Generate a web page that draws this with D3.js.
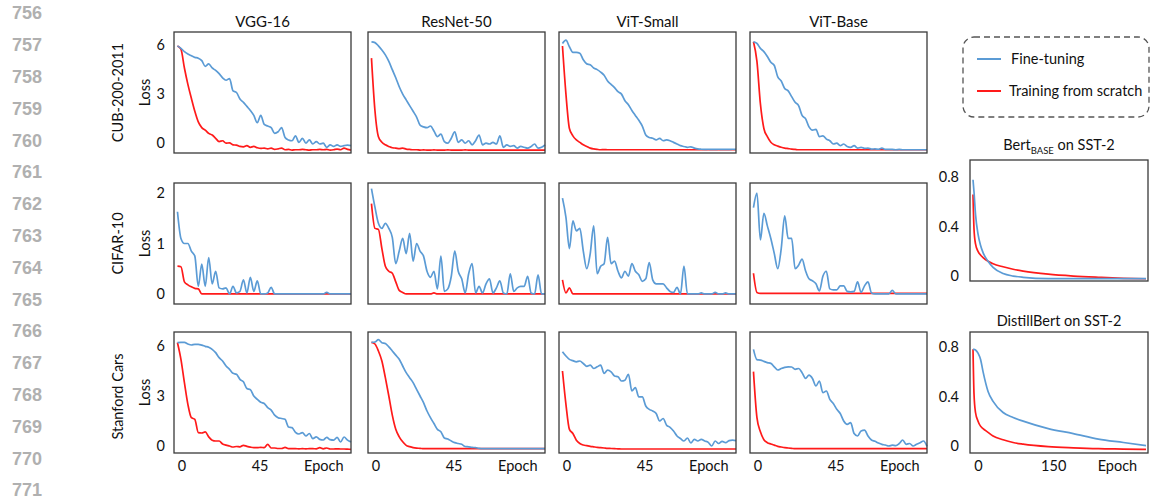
<!DOCTYPE html>
<html>
<head>
<meta charset="utf-8">
<script src="https://cdn.jsdelivr.net/npm/d3@7"></script>
<style>
  body { margin: 0; background: #fff; }
  svg text { font-family: Lato, "Noto Sans", sans-serif; fill: #111; }
</style>
</head>
<body>
<script>
// column / row names
const models = ["VGG-16", "ResNet-50", "ViT-Small", "ViT-Base"];
const datasets = ["CUB-200-2011", "CIFAR-10", "Stanford Cars"];
const rowTicks = [[0, 3, 6], [0, 1, 2], [0, 3, 6]];
const epochTicks = [0, 45];
const nlpTicks = [0, 0.4, 0.8];
const nlpEpochTicks = [0, 150];
const legendLabels = ["Fine-tuning", "Training from scratch"];
const lineNumbers = d3.range(756, 772);

// loss every 2 epochs (0..100)
const cubVggFt = [5.95, 5.8, 5.6, 5.45, 5.35, 5.25, 5.2, 5.05, 4.7, 4.85, 4.6, 4.45, 4.25, 4.0, 3.85, 3.95, 3.2, 3.1, 2.7, 2.5, 2.25, 2.0, 1.7, 1.25, 1.7, 1.15, 1.05, 0.95, 0.6, 0.7, 0.95, 0.35, 0.2, 0.15, 0.45, 0.05, 0.3, 0.0, 0.2, -0.05, 0.1, -0.05, 0.0, -0.25, -0.1, -0.2, -0.1, -0.2, -0.15, -0.12, -0.15];
const cubVggScratch = [5.95, 5.75, 4.6, 3.6, 2.75, 1.95, 1.3, 0.95, 0.8, 0.6, 0.5, 0.3, 0.1, 0.15, 0.0, 0.02, -0.1, -0.12, -0.2, -0.22, -0.15, -0.25, -0.2, -0.28, -0.32, -0.3, -0.35, -0.3, -0.38, -0.35, -0.3, -0.4, -0.38, -0.42, -0.4, -0.4, -0.38, -0.4, -0.42, -0.4, -0.4, -0.38, -0.4, -0.38, -0.42, -0.4, -0.36, -0.4, -0.3, -0.38, -0.42];
const cubResFt = [6.2, 6.15, 5.95, 5.7, 5.4, 5.0, 4.5, 4.0, 3.45, 3.0, 2.65, 2.3, 1.95, 1.6, 1.1, 1.0, 0.95, 1.05, 0.75, 0.4, 0.55, 0.1, 0.0, 0.3, 0.7, 0.05, 0.2, 0.0, 0.15, -0.1, 0.15, 0.5, -0.1, 0.0, -0.05, 0.05, -0.05, 0.45, -0.25, -0.1, -0.2, -0.15, -0.3, -0.2, -0.25, -0.3, -0.2, -0.05, -0.3, -0.25, -0.1];
const cubResScratch = [5.2, 2.0, 0.4, 0.06, -0.1, -0.2, -0.28, -0.3, -0.33, -0.3, -0.36, -0.38, -0.4, -0.4, -0.42, -0.41, -0.42, -0.42, -0.41, -0.42, -0.42, -0.42, -0.41, -0.42, -0.42, -0.42, -0.42, -0.41, -0.42, -0.42, -0.42, -0.42, -0.42, -0.42, -0.42, -0.42, -0.42, -0.42, -0.42, -0.42, -0.42, -0.42, -0.42, -0.42, -0.42, -0.42, -0.42, -0.42, -0.42, -0.42, -0.42];
const cubVitSFt = [6.1, 6.3, 5.9, 5.55, 5.55, 5.5, 5.1, 4.85, 4.8, 4.6, 4.5, 4.35, 4.15, 3.8, 3.6, 3.4, 3.15, 3.0, 2.6, 2.35, 2.0, 1.7, 1.4, 1.05, 0.5, 0.35, 0.3, 0.2, 0.3, 0.15, 0.2, 0.15, 0.05, -0.05, -0.15, -0.2, -0.25, -0.22, -0.3, -0.35, -0.37, -0.38, -0.37, -0.38, -0.38, -0.37, -0.38, -0.38, -0.38, -0.37, -0.38];
const cubVitSScratch = [5.94, 3.0, 0.9, 0.45, 0.2, 0.05, -0.1, -0.2, -0.3, -0.35, -0.38, -0.4, -0.39, -0.4, -0.4, -0.4, -0.4, -0.4, -0.4, -0.4, -0.4, -0.4, -0.4, -0.4, -0.4, -0.4, -0.4, -0.4, -0.4, -0.4, -0.4, -0.4, -0.4, -0.4, -0.4, -0.4, -0.4, -0.4, -0.4, -0.4, -0.4, -0.4, -0.4, -0.4, -0.4, -0.4, -0.4, -0.4, -0.4, -0.4, -0.4];
const cubVitBFt = [6.2, 6.1, 5.8, 5.6, 5.3, 4.95, 4.75, 4.05, 3.8, 3.35, 3.2, 2.85, 2.5, 2.3, 1.7, 1.5, 1.0, 0.8, 0.85, 0.4, 0.45, 0.25, 0.15, -0.05, 0.0, -0.15, -0.05, -0.2, -0.25, -0.15, -0.3, -0.25, -0.32, -0.3, -0.36, -0.35, -0.37, -0.3, -0.38, -0.38, -0.38, -0.4, -0.38, -0.4, -0.4, -0.4, -0.4, -0.4, -0.4, -0.4, -0.4];
const cubVitBScratch = [6.2, 5.0, 2.4, 0.9, 0.4, 0.06, -0.1, -0.18, -0.25, -0.3, -0.33, -0.36, -0.38, -0.4, -0.4, -0.4, -0.4, -0.4, -0.4, -0.4, -0.4, -0.4, -0.4, -0.4, -0.4, -0.4, -0.4, -0.4, -0.4, -0.4, -0.4, -0.4, -0.4, -0.4, -0.4, -0.4, -0.4, -0.4, -0.4, -0.4, -0.4, -0.4, -0.4, -0.4, -0.4, -0.4, -0.4, -0.4, -0.4, -0.4, -0.4];

const cifarVggFt = [1.63, 1.1, 1.0, 1.0, 0.85, 0.75, 0.15, 0.59, 0.15, 0.72, 0.2, 0.45, 0.12, 0.1, 0.12, 0.0, 0.15, 0.02, 0.05, 0.28, 0.02, 0.33, 0.05, 0.26, 0.0, 0.0, 0.02, 0.13, 0.0, 0.0, 0.0, 0.0, 0.0, 0.0, 0.0, 0.0, 0.0, 0.0, 0.0, 0.0, 0.0, 0.0, 0.0, 0.03, 0.0, 0.0, 0.0, 0.0, 0.0, 0.0, 0.0];
const cifarVggScratch = [0.55, 0.54, 0.24, 0.18, 0.14, 0.11, 0.1, 0.0, 0.0, 0.0, 0.0, 0.0, 0.0, 0.0, 0.0, 0.0, 0.0, 0.0, 0.0, 0.0, 0.0, 0.0, 0.0, 0.0, 0.0, 0.0, 0.0, 0.0, 0.0, 0.0, 0.0, 0.0, 0.0, 0.0, 0.0, 0.0, 0.0, 0.0, 0.0, 0.0, 0.0, 0.0, 0.0, 0.0, 0.0, 0.0, 0.0, 0.0, 0.0, 0.0, 0.0];
const cifarResFt = [2.09, 1.72, 1.4, 1.3, 1.4, 1.3, 1.12, 0.6, 0.85, 1.1, 0.8, 1.2, 0.65, 1.0, 0.85, 0.75, 0.45, 0.33, 0.45, 0.1, 0.75, 0.05, 0.1, 0.35, 0.85, 0.45, 0.3, 0.02, 0.4, 0.6, 0.02, 0.15, 0.02, 0.2, 0.3, 0.02, 0.12, 0.26, 0.02, 0.0, 0.4, 0.05, 0.12, 0.15, 0.15, 0.35, 0.02, 0.0, 0.38, 0.0, 0.0];
const cifarResScratch = [1.79, 1.3, 1.28, 0.9, 0.55, 0.45, 0.41, 0.24, 0.07, 0.03, 0.0, 0.0, 0.0, 0.0, 0.0, 0.0, 0.0, 0.0, 0.02, 0.0, 0.0, 0.0, 0.0, 0.0, 0.0, 0.0, 0.0, 0.0, 0.0, 0.0, 0.0, 0.0, 0.0, 0.0, 0.0, 0.0, 0.0, 0.0, 0.0, 0.0, 0.0, 0.0, 0.0, 0.0, 0.0, 0.0, 0.0, 0.0, 0.0, 0.0, 0.0];
const cifarVitSFt = [1.9, 1.52, 0.9, 1.45, 1.25, 1.3, 0.85, 0.5, 0.8, 1.35, 0.4, 0.55, 0.6, 1.12, 0.6, 0.65, 0.45, 0.32, 0.45, 0.35, 0.6, 0.45, 0.38, 0.25, 0.3, 0.62, 0.28, 0.2, 0.2, 0.2, 0.12, 0.05, 0.03, 0.13, 0.0, 0.55, 0.0, 0.0, 0.0, 0.0, 0.02, 0.0, 0.0, 0.0, 0.03, 0.0, 0.0, 0.02, 0.0, 0.0, 0.0];
const cifarVitSScratch = [0.28, 0.02, 0.12, 0.0, 0.0, 0.0, 0.0, 0.0, 0.0, 0.0, 0.0, 0.0, 0.0, 0.0, 0.0, 0.0, 0.0, 0.0, 0.0, 0.0, 0.0, 0.0, 0.0, 0.0, 0.0, 0.0, 0.0, 0.0, 0.0, 0.0, 0.0, 0.0, 0.0, 0.0, 0.0, 0.0, 0.0, 0.0, 0.0, 0.0, 0.0, 0.0, 0.0, 0.0, 0.0, 0.0, 0.0, 0.0, 0.0, 0.0, 0.0];
const cifarVitBFt = [1.71, 2.0, 1.07, 1.6, 1.35, 1.1, 0.8, 0.5, 0.9, 1.55, 1.1, 1.1, 0.5, 0.57, 0.69, 0.46, 0.3, 0.26, 0.2, 0.06, 0.35, 0.45, 0.1, 0.08, 0.08, 0.16, 0.16, 0.05, 0.04, 0.05, 0.24, 0.03, 0.16, 0.24, 0.02, 0.0, 0.0, 0.0, 0.0, 0.0, 0.07, 0.0, 0.0, 0.0, 0.0, 0.0, 0.0, 0.0, 0.0, 0.0, 0.0];
const cifarVitBScratch = [0.41, 0.03, 0.01, 0.01, 0.01, 0.01, 0.01, 0.01, 0.01, 0.01, 0.01, 0.01, 0.01, 0.01, 0.01, 0.01, 0.01, 0.01, 0.01, 0.01, 0.01, 0.01, 0.01, 0.01, 0.01, 0.01, 0.01, 0.01, 0.01, 0.01, 0.01, 0.01, 0.01, 0.01, 0.01, 0.01, 0.01, 0.01, 0.01, 0.01, 0.01, 0.01, 0.01, 0.01, 0.01, 0.01, 0.01, 0.01, 0.01, 0.01, 0.01];

const carsVggFt = [6.2, 6.22, 6.22, 6.12, 6.06, 6.1, 6.1, 6.05, 5.98, 5.92, 5.8, 5.6, 5.3, 5.1, 4.8, 4.6, 4.36, 4.3, 4.0, 3.85, 3.45, 3.38, 3.0, 2.8, 2.62, 2.55, 2.3, 2.15, 1.85, 1.7, 1.65, 1.6, 1.14, 1.1, 0.82, 0.72, 0.8, 0.6, 0.75, 0.44, 0.55, 0.4, 0.36, 0.52, 0.38, 0.35, 0.52, 0.24, 0.54, 0.35, 0.25];
const carsVggScratch = [6.2, 5.2, 3.8, 2.5, 1.7, 1.6, 0.8, 0.78, 0.85, 0.55, 0.35, 0.3, 0.3, 0.12, 0.05, 0.0, -0.06, -0.03, -0.05, 0.04, -0.02, -0.07, -0.1, -0.1, -0.08, -0.1, 0.1, -0.12, -0.12, -0.15, -0.15, -0.08, -0.16, -0.16, -0.16, -0.17, -0.16, -0.17, -0.16, -0.16, -0.17, -0.1, -0.17, -0.12, -0.18, -0.18, -0.17, -0.18, -0.18, -0.19, -0.2];
const carsResFt = [6.22, 6.24, 6.38, 6.2, 6.15, 5.95, 5.7, 5.45, 5.2, 4.8, 4.4, 4.1, 3.8, 3.4, 3.0, 2.6, 2.1, 1.7, 1.35, 1.0, 0.86, 0.48, 0.42, 0.3, 0.2, 0.15, 0.1, -0.03, -0.05, -0.08, -0.1, -0.14, -0.16, -0.16, -0.16, -0.16, -0.16, -0.16, -0.16, -0.16, -0.16, -0.16, -0.16, -0.16, -0.16, -0.16, -0.16, -0.16, -0.16, -0.16, -0.16];
const carsResScratch = [6.22, 6.12, 5.7, 5.1, 4.1, 3.0, 1.85, 1.0, 0.55, 0.25, 0.04, -0.04, -0.1, -0.13, -0.14, -0.16, -0.16, -0.16, -0.16, -0.16, -0.16, -0.16, -0.16, -0.16, -0.16, -0.16, -0.16, -0.16, -0.16, -0.16, -0.16, -0.16, -0.16, -0.16, -0.16, -0.16, -0.16, -0.16, -0.16, -0.16, -0.16, -0.16, -0.16, -0.16, -0.16, -0.16, -0.16, -0.16, -0.16, -0.16, -0.16];
const carsVitSFt = [5.66, 5.4, 5.2, 5.12, 5.05, 5.1, 4.95, 4.78, 4.85, 4.65, 4.75, 4.85, 4.35, 4.55, 4.45, 4.2, 4.15, 3.9, 3.95, 4.3, 3.3, 3.5, 2.95, 2.95, 2.4, 2.2, 2.1, 1.95, 1.5, 1.65, 1.25, 1.12, 0.9, 0.6, 0.45, 0.3, 0.48, 0.18, 0.4, 0.3, 0.4, 0.3, 0.22, 0.0, 0.3, 0.15, 0.28, 0.2, 0.32, 0.35, 0.32];
const carsVitSScratch = [4.5, 2.5, 1.0, 0.75, 0.35, 0.15, 0.06, 0.02, -0.02, -0.05, -0.08, -0.1, -0.12, -0.14, -0.15, -0.16, -0.17, -0.18, -0.18, -0.18, -0.18, -0.18, -0.18, -0.18, -0.18, -0.18, -0.18, -0.18, -0.18, -0.18, -0.18, -0.18, -0.18, -0.18, -0.18, -0.18, -0.18, -0.18, -0.18, -0.18, -0.18, -0.18, -0.18, -0.18, -0.18, -0.18, -0.18, -0.18, -0.18, -0.18, -0.18];
const carsVitBFt = [5.8, 5.18, 5.15, 5.08, 5.0, 4.96, 4.75, 4.56, 4.65, 4.72, 4.75, 4.74, 4.6, 4.65, 4.4, 4.06, 4.25, 4.05, 3.6, 3.9, 3.2, 3.3, 2.8, 2.55, 2.2, 1.95, 1.5, 1.3, 1.4, 0.75, 0.6, 0.9, 0.95, 0.6, 0.36, 0.28, 0.18, 0.1, 0.06, 0.0, 0.05, 0.02, 0.15, 0.36, 0.1, 0.15, 0.0, 0.1, 0.2, 0.3, -0.02];
const carsVitBScratch = [4.46, 1.7, 0.85, 0.38, 0.2, 0.12, 0.05, -0.02, -0.06, -0.1, -0.12, -0.14, -0.16, -0.16, -0.16, -0.16, -0.16, -0.16, -0.16, -0.16, -0.16, -0.16, -0.16, -0.16, -0.16, -0.16, -0.16, -0.16, -0.16, -0.16, -0.16, -0.16, -0.16, -0.16, -0.16, -0.16, -0.16, -0.16, -0.16, -0.16, -0.16, -0.16, -0.16, -0.16, -0.16, -0.16, -0.16, -0.16, -0.16, -0.16, -0.16];

// SST-2 curves, sampled at nlpEpochs
const nlpEpochs = [0, 2, 5, 10, 15, 20, 30, 40, 60, 80, 100, 150, 200, 250, 300, 345];
const bertFt = [0.78, 0.68, 0.5, 0.34, 0.25, 0.19, 0.12, 0.07, 0.02, 0.0, -0.01, -0.02, -0.02, -0.02, -0.02, -0.02];
const bertScratch = [0.66, 0.38, 0.26, 0.2, 0.17, 0.15, 0.12, 0.1, 0.075, 0.055, 0.04, 0.015, 0.0, -0.01, -0.018, -0.022];
const distilFt = [0.78, 0.78, 0.775, 0.75, 0.7, 0.6, 0.44, 0.36, 0.27, 0.23, 0.2, 0.14, 0.1, 0.055, 0.028, 0.003];
const distilScratch = [0.78, 0.42, 0.27, 0.2, 0.16, 0.14, 0.11, 0.08, 0.05, 0.028, 0.015, -0.005, -0.015, -0.022, -0.025, -0.028];

document.addEventListener("DOMContentLoaded", function() {
    const width = 1150;
    const height = 501;
    const blue = "#5b9bd5";
    const red = "#ff1a1a";

    const svg = d3.select("body").append("svg")
        .attr("width", width)
        .attr("height", height);

    // grid layout
    const colLeft = [174, 368, 559, 750];
    const panelW = 177;
    const rowTop = [32, 183, 332];
    const panelH = 121;
    const rowDomain = [[-0.6, 6.8], [-0.2, 2.2], [-0.42, 6.84]];

    const grid = [
        [cubVggFt, cubVggScratch, cubResFt, cubResScratch, cubVitSFt, cubVitSScratch, cubVitBFt, cubVitBScratch],
        [cifarVggFt, cifarVggScratch, cifarResFt, cifarResScratch, cifarVitSFt, cifarVitSScratch, cifarVitBFt, cifarVitBScratch],
        [carsVggFt, carsVggScratch, carsResFt, carsResScratch, carsVitSFt, carsVitSScratch, carsVitBFt, carsVitBScratch]
    ];

    // gray line numbers at the page margin
    svg.append("g").selectAll("text")
        .data(lineNumbers)
        .join("text")
        .attr("x", 42)
        .attr("y", (d, i) => 13 + i * 31.8)
        .attr("dy", "0.35em")
        .attr("text-anchor", "end")
        .style("font-family", "'Liberation Sans', Arial, sans-serif")
        .style("font-weight", "bold")
        .style("font-size", "18px")
        .style("fill", "#b0b0b0")
        .text(d => d);

    const drawPanel = (left, top, w, h, xDomain, yDomain, series, opts) => {
        const x = d3.scaleLinear().domain(xDomain).range([left, left + w]);
        const y = d3.scaleLinear().domain(yDomain).range([top + h, top]);
        const g = svg.append("g");

        // red first, blue on top
        [[series.scratch, red], [series.ft, blue]].forEach(([vals, color]) => {
            const xs = series.epochs || vals.map((v, i) => i * 100 / (vals.length - 1));
            const line = d3.line()
                .x((d, i) => x(xs[i]))
                .y(d => y(d))
                .curve(d3.curveMonotoneX);
            g.append("path")
                .datum(vals)
                .attr("fill", "none")
                .attr("stroke", color)
                .attr("stroke-width", 1.7)
                .attr("stroke-linejoin", "round")
                .attr("d", line);
        });

        g.append("rect")
            .attr("x", left)
            .attr("y", top)
            .attr("width", w)
            .attr("height", h)
            .attr("fill", "none")
            .attr("stroke", "#3a3a3a")
            .attr("stroke-width", 1.3);

        if (opts.yTicks) {
            const ax = g.append("g")
                .attr("transform", `translate(${left},0)`)
                .call(d3.axisLeft(y).tickValues(opts.yTicks).tickFormat(d => d).tickSize(0).tickPadding(opts.yPad));
            ax.select(".domain").remove();
            ax.selectAll("text").style("font-size", "14.5px");
        }
        if (opts.xTicks) {
            const ax = g.append("g")
                .attr("transform", `translate(0,${top + h})`)
                .call(d3.axisBottom(x).tickValues(opts.xTicks).tickFormat(d => d).tickSize(0).tickPadding(8));
            ax.select(".domain").remove();
            ax.selectAll("text").attr("dx", opts.xShift).style("font-size", "14.5px");
            g.append("text")
                .attr("x", x(opts.epochAt) + opts.xShift)
                .attr("y", top + h + 13)
                .attr("dy", "0.35em")
                .attr("text-anchor", "middle")
                .style("font-size", "14.5px")
                .text("Epoch");
        }
        return g;
    };

    grid.forEach((row, r) => {
        models.forEach((m, c) => {
            drawPanel(colLeft[c], rowTop[r], panelW, panelH, [-2, 100], rowDomain[r],
                {ft: row[c * 2], scratch: row[c * 2 + 1]},
                {
                    yTicks: c === 0 ? rowTicks[r] : null,
                    yPad: 9,
                    xTicks: r === 2 ? epochTicks : null,
                    xShift: 4,
                    epochAt: 82
                });
        });
    });

    // column titles
    svg.append("g").selectAll("text")
        .data(models)
        .join("text")
        .attr("x", (d, i) => colLeft[i] + panelW / 2)
        .attr("y", 22)
        .attr("dy", "0.35em")
        .attr("text-anchor", "middle")
        .style("font-size", "15px")
        .text(d => d);

    // row labels
    datasets.forEach((name, r) => {
        const cy = rowTop[r] + panelH / 2 + (r === 2 ? 4 : 0);
        svg.append("text")
            .attr("transform", `translate(118,${cy}) rotate(-90)`)
            .attr("dy", "0.35em")
            .attr("text-anchor", "middle")
            .style("font-size", "14.5px")
            .text(name);
        svg.append("text")
            .attr("transform", `translate(145,${rowTop[r] + panelH / 2}) rotate(-90)`)
            .attr("dy", "0.35em")
            .attr("text-anchor", "middle")
            .style("font-size", "14.5px")
            .text("Loss");
    });

    // SST-2 panels
    const nlpLeft = 970;
    drawPanel(nlpLeft, 160, 178, 121, [-6, 349], [-0.04, 0.94],
        {ft: bertFt, scratch: bertScratch, epochs: nlpEpochs},
        {yTicks: nlpTicks, yPad: 11});
    drawPanel(nlpLeft, 332, 178, 121, [-6, 349], [-0.057, 0.92],
        {ft: distilFt, scratch: distilScratch, epochs: nlpEpochs},
        {yTicks: nlpTicks, yPad: 11, xTicks: nlpEpochTicks, xShift: 5, epochAt: 278});

    const bertTitle = svg.append("text")
        .attr("x", nlpLeft + 89)
        .attr("y", 145)
        .attr("dy", "0.35em")
        .attr("text-anchor", "middle")
        .style("font-size", "14.5px");
    bertTitle.append("tspan").text("Bert");
    bertTitle.append("tspan").attr("dy", 4).style("font-size", "9.5px").text("BASE");
    bertTitle.append("tspan").attr("dy", -4).text(" on SST-2");

    svg.append("text")
        .attr("x", nlpLeft + 89)
        .attr("y", 321)
        .attr("dy", "0.35em")
        .attr("text-anchor", "middle")
        .style("font-size", "14.5px")
        .text("DistillBert on SST-2");

    // legend
    const legend = svg.append("g");
    legend.append("rect")
        .attr("x", 963)
        .attr("y", 37)
        .attr("width", 186)
        .attr("height", 80)
        .attr("rx", 11)
        .attr("fill", "none")
        .attr("stroke", "#555")
        .attr("stroke-width", 1.3)
        .attr("stroke-dasharray", "6,4");
    [blue, red].forEach((color, i) => {
        const ly = 59 + i * 32;
        legend.append("line")
            .attr("x1", 977).attr("x2", 1001)
            .attr("y1", ly).attr("y2", ly)
            .attr("stroke", color)
            .attr("stroke-width", 2);
        legend.append("text")
            .attr("x", i === 0 ? 1011 : 1009)
            .attr("y", ly)
            .attr("dy", "0.35em")
            .style("font-size", "14.5px")
            .text(legendLabels[i]);
    });
});
</script>
</body>
</html>
